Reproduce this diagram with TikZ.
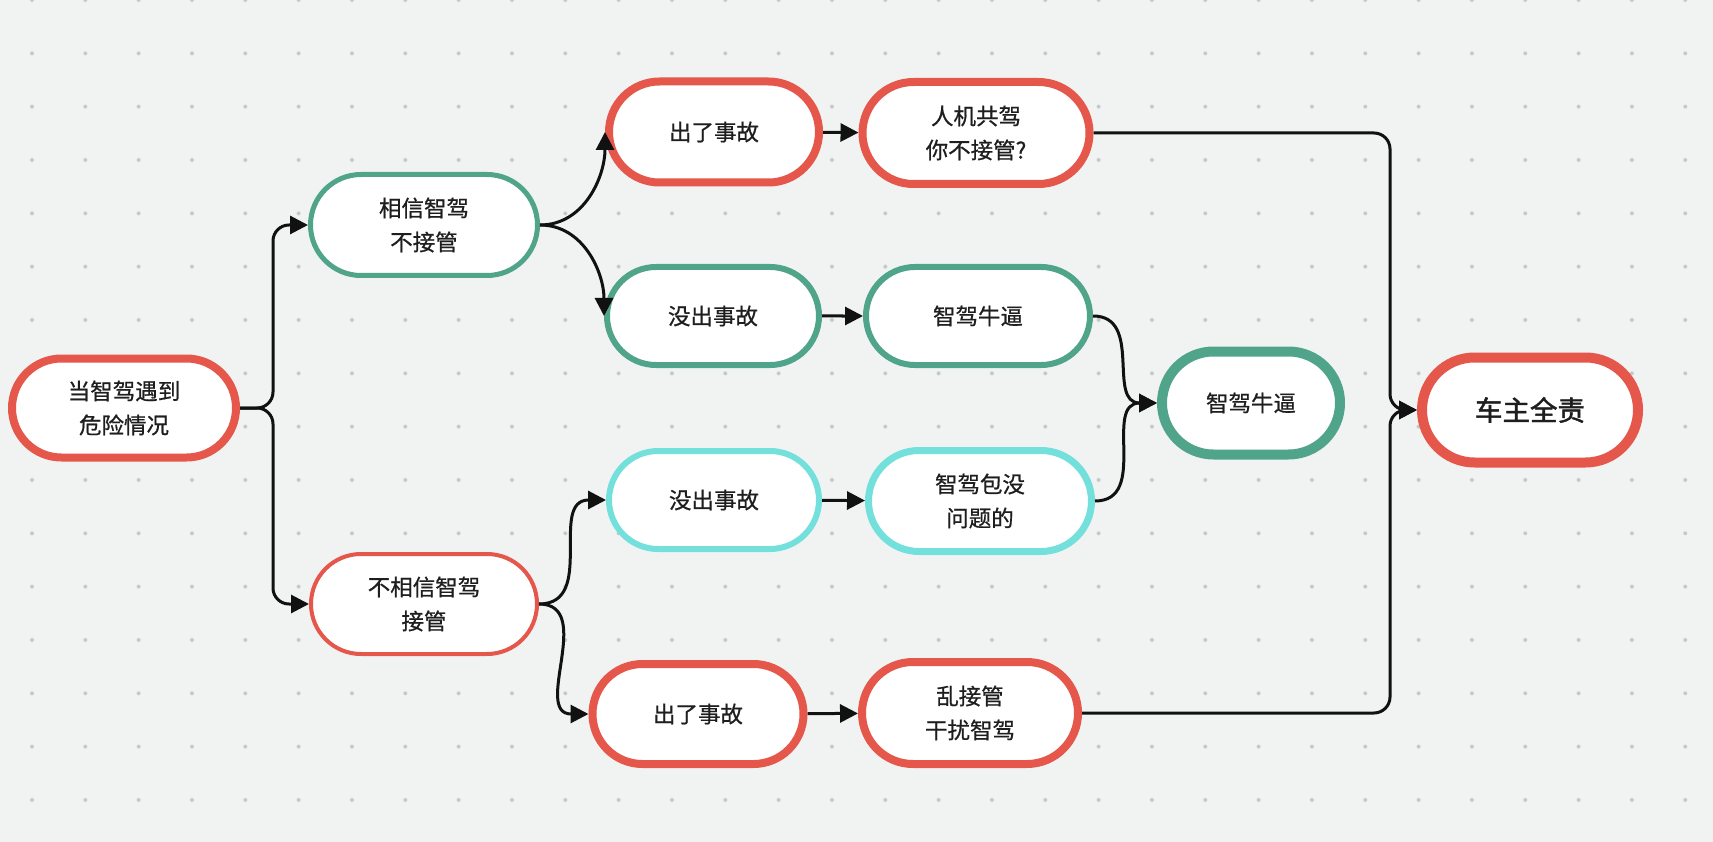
\documentclass[tikz,border=0pt]{standalone}
\usepackage{fontspec}
\setmainfont{Noto Sans CJK SC}[FakeBold=0.7, AutoFakeBold=0]
\newfontfamily\strongfont{Noto Sans CJK SC}[FakeBold=1.6]
\usetikzlibrary{shapes.misc,arrows.meta}
\definecolor{bg}{HTML}{F1F3F3}
\definecolor{dotc}{HTML}{C6C9C9}
\definecolor{cred}{HTML}{E4574A}
\definecolor{cgreen}{HTML}{50A48A}
\definecolor{ccyan}{HTML}{74E0DC}
\definecolor{ctext}{HTML}{1E1E1E}
\definecolor{cline}{HTML}{111111}
\tikzset{
  pill/.style={rounded rectangle, fill=white, inner sep=0pt, align=center,
    text=ctext, font=\fontsize{22.5}{34}\selectfont},
  redb/.style={pill, draw=cred},
  greenb/.style={pill, draw=cgreen},
  cyanb/.style={pill, draw=ccyan},
  conn/.style={draw=cline, line width=3pt, -{Triangle[length=18pt,width=18pt]}},
  sz/.style 2 args={minimum width=#1pt, minimum height=#2pt},
}
\begin{document}
\begin{tikzpicture}[x=1pt,y=-1pt]
\fill[bg] (0,0) rectangle (1713,842);
\useasboundingbox (0,0) rectangle (1713,842);
\foreach \i in {0,...,31}{
  \foreach \j in {0,...,15}{
    \fill[dotc] ({32+53.33*\i},{53.33*\j}) circle (2pt);
  }
}
% nodes
\node[redb, line width=8pt, sz={224}{99}] (n1) at (124,408) {当智驾遇到\\危险情况};
\node[greenb, line width=5pt, sz={227}{101}] (n2) at (424,225) {相信智驾\\不接管};
\node[redb, line width=8pt, sz={210}{101}] (n3) at (714,132) {出了事故};
\node[redb, line width=8pt, sz={227}{102}] (n4) at (976,133) {人机共驾\\你不接管?};
\node[greenb, line width=6pt, sz={212}{98}] (n5) at (713,316) {没出事故};
\node[greenb, line width=6pt, sz={224}{98}] (n6) at (978,316) {智驾牛逼};
\node[greenb, line width=10pt, sz={178}{103}] (n7) at (1251,403) {智驾牛逼};
\node[redb, line width=10pt, sz={216}{105}, font=\strongfont\fontsize{27.5}{34}\selectfont] (n8) at (1530,410) {车主全责};
\node[cyanb, line width=6pt, sz={210}{98}] (n9) at (714,500) {没出事故};
\node[cyanb, line width=7pt, sz={223}{101}] (n10) at (980,501) {智驾包没\\问题的};
\node[redb, line width=4pt, sz={226}{100}] (n11) at (424,604) {不相信智驾\\接管};
\node[redb, line width=8pt, sz={211}{100}] (n12) at (698,714) {出了事故};
\node[redb, line width=8pt, sz={216}{102}] (n13) at (970,713) {乱接管\\干扰智驾};
% junction coordinates
\coordinate (jl) at (273,408);
\coordinate (jr) at (1390,410);
% connectors
\draw[conn, rounded corners=16pt] (n1.east) -- (jl) |- (n2.west);
\draw[conn, rounded corners=16pt] (n1.east) -- (jl) |- (n11.west);
\draw[conn] (n2.east) to[out=0,in=-90] (n3.west);
\draw[conn] (n2.east) to[out=0,in=90] (n5.west);
\draw[conn] (n3) -- (n4);
\draw[conn] (n5) -- (n6);
\draw[conn] (n9) -- (n10);
\draw[conn] (n12) -- (n13);
\draw[conn] (n11.east) to[out=0,in=180,looseness=1.2] (n9.west);
\draw[conn] (n11.east) to[out=0,in=180,looseness=1.2] (n12.west);
\draw[conn] (n6.east) to[out=0,in=180,looseness=1.2] (n7.west);
\draw[conn] (n10.east) to[out=0,in=180,looseness=1.2] (n7.west);
\draw[conn, rounded corners=16pt] (n4.east) -| (jr) -- (n8.west);
\draw[conn, rounded corners=16pt] (n13.east) -| (jr) -- (n8.west);
\end{tikzpicture}
\end{document}
